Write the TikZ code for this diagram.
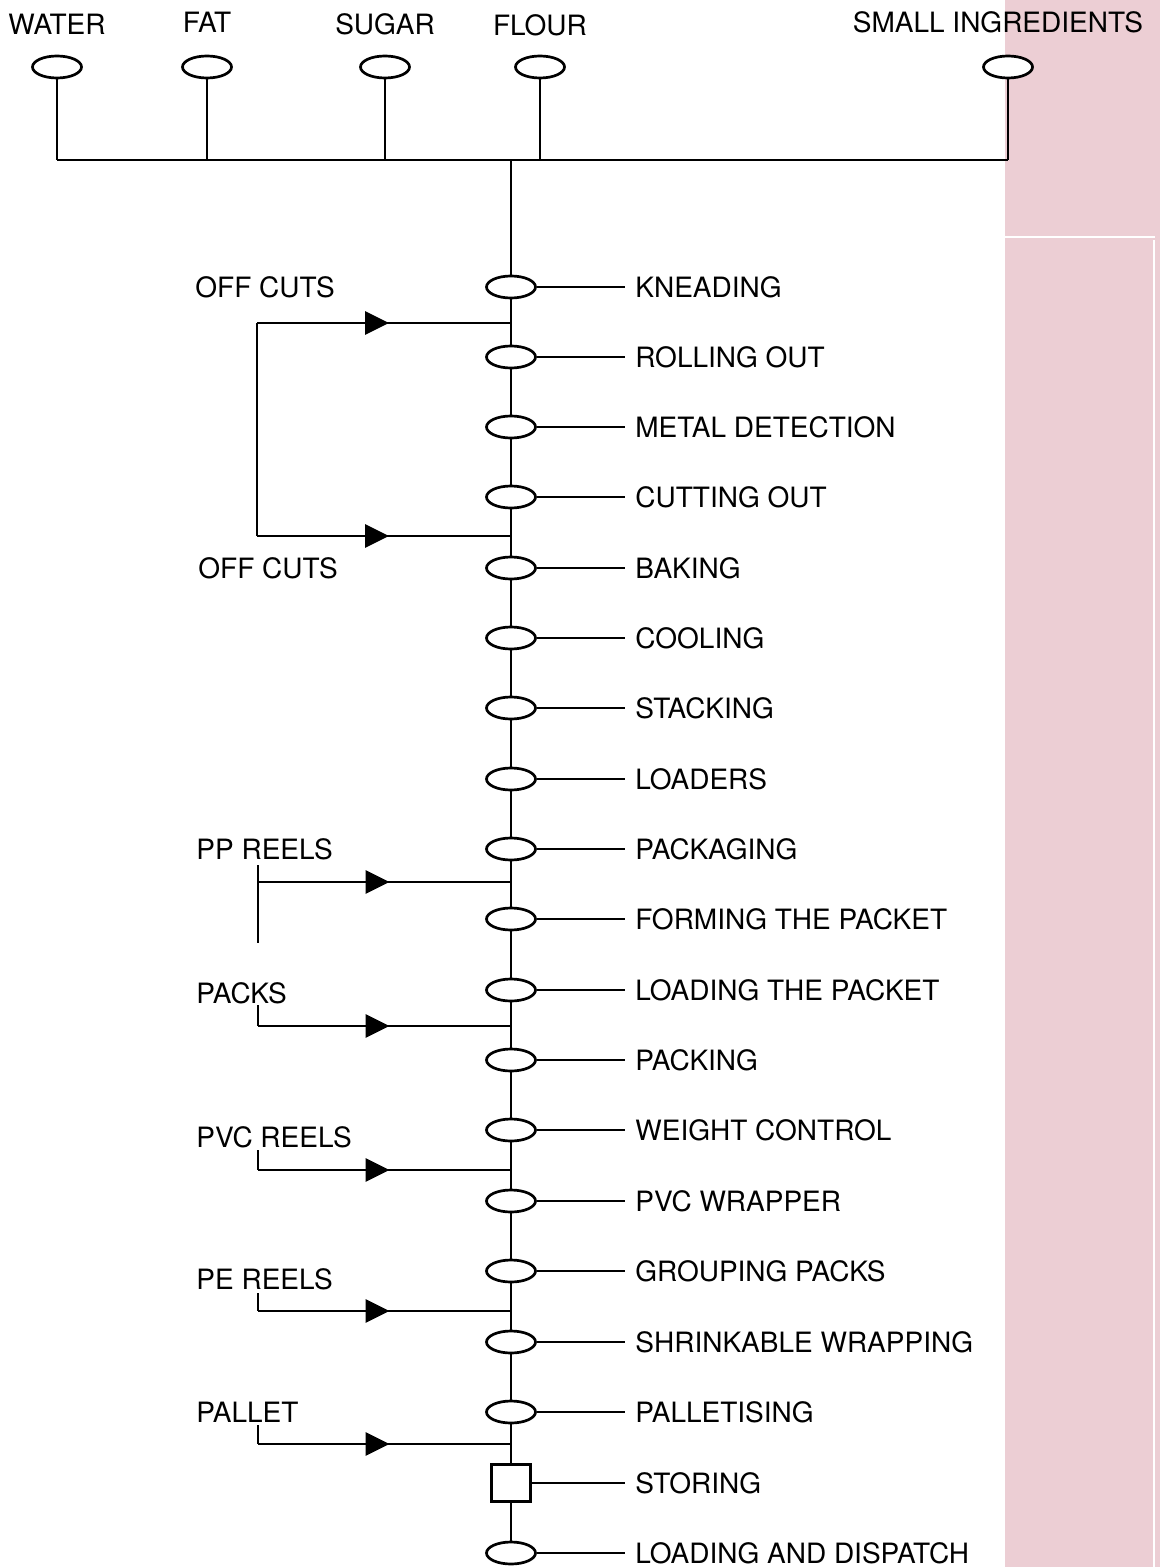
\documentclass[tikz,border=0pt]{standalone}
\usepackage{fontspec}
\setmainfont{TeX Gyre Heros}
\usetikzlibrary{shapes.geometric,arrows.meta,decorations.markings}
\definecolor{bandpink}{RGB}{236,206,212}
\tikzset{
  proc/.style={ellipse,draw,fill=white,line width=1.35pt,minimum width=24.5pt,minimum height=11pt,inner sep=0pt},
  storebox/.style={rectangle,draw,fill=white,line width=1.35pt,minimum width=19.5pt,minimum height=18.5pt,inner sep=0pt},
  lbl/.style={anchor=west,inner xsep=5pt,inner ysep=0pt,font=\fontsize{14}{16}\selectfont},
  toplbl/.style={inner sep=0pt,font=\fontsize{14}{16}\selectfont},
  sidelbl/.style={anchor=west,inner sep=0pt,font=\fontsize{14}{16}\selectfont},
  conn/.style={line width=1.35pt},
  flowline/.style={conn,postaction={decorate},decoration={markings,mark=at position 0.52 with {\arrow{Triangle[length=12pt,width=11.5pt]}}}}
}
\begin{document}
\begin{tikzpicture}[x=0.5pt,y=-0.5pt]
\useasboundingbox (0,0) rectangle (1160,1567);
% watermark band
\fill[bandpink] (1005,0) rectangle (1160,1567);
\draw[white,line width=0.8pt] (1005,237) -- (1155,237);
\draw[white,line width=0.8pt] (1154,240) -- (1154,1567);

% top ingredients
\foreach \n/\x/\ly/\t in {w/57/24/WATER, f/207/22/FAT, s/385/24/SUGAR, fl/540/25/FLOUR}{
  \node[toplbl] (t\n) at (\x,\ly) {\t};
  \node[proc] (e\n) at (\x,67) {};
  \coordinate (b\n) at (\x,160);
  \draw[conn] (e\n.south) -- (b\n);
}
\node[toplbl] (tsi) at (998,22) {SMALL INGREDIENTS};
\node[proc] (esi) at (1008,67) {};
\coordinate (bsi) at (1008,160);
\draw[conn] (esi.south) -- (bsi);
\draw[conn] (bw) -- (bsi);
\coordinate (bmain) at (511,160);

% process steps
\foreach \i/\y/\t in {1/287/KNEADING, 2/357/ROLLING OUT, 3/427/METAL DETECTION, 4/497/CUTTING OUT,
  5/568/BAKING, 6/638/COOLING, 7/708/STACKING, 8/779/LOADERS, 9/849/PACKAGING,
  10/919/FORMING THE PACKET, 11/990/LOADING THE PACKET, 12/1060/PACKING,
  13/1130/WEIGHT CONTROL, 14/1201/PVC WRAPPER, 15/1271/GROUPING PACKS,
  16/1342/SHRINKABLE WRAPPING, 17/1412/PALLETISING, 19/1553/LOADING AND DISPATCH}{
  \node[proc] (s\i) at (511,\y) {};
  \node[lbl] (l\i) at (625,\y) {\t};
  \draw[conn] (s\i.east) -- (l\i.west);
}
\node[storebox] (s18) at (511,1483) {};
\node[lbl] (l18) at (625,1483) {STORING};
\draw[conn] (s18.east) -- (l18.west);

\draw[conn] (bmain) -- (s1.north);
\foreach \i [evaluate=\i as \j using int(\i+1)] in {1,...,18}{
  \draw[conn] (s\i.south) -- (s\j.north);
}

% junctions on main line
\coordinate (j1) at (511,323);
\coordinate (j2) at (511,536);
\coordinate (j3) at (511,882);
\coordinate (j4) at (511,1026);
\coordinate (j5) at (511,1170);
\coordinate (j6) at (511,1311);
\coordinate (j7) at (511,1444);

% off cuts loop
\node[sidelbl] (oc1) at (195,287) {OFF CUTS};
\node[sidelbl] (oc2) at (198,568) {OFF CUTS};
\coordinate (o1) at (257,323);
\coordinate (o2) at (257,536);
\draw[conn] (o1) -- (o2);
\draw[flowline] (o1) -- (j1);
\draw[flowline] (o2) -- (j2);

% PP reels
\node[sidelbl] (pp) at (196,849) {PP REELS};
\coordinate (p0) at (258,865);
\coordinate (p1) at (258,943);
\coordinate (pj) at (258,882);
\draw[conn] (p0) -- (p1);
\draw[flowline] (pj) -- (j3);

% packs
\node[sidelbl] (pk) at (196,993) {PACKS};
\coordinate (k0) at (258,1005);
\coordinate (k1) at (258,1026);
\draw[conn] (k0) -- (k1);
\draw[flowline] (k1) -- (j4);

% PVC reels
\node[sidelbl] (pvc) at (196,1137) {PVC REELS};
\coordinate (v0) at (258,1150);
\coordinate (v1) at (258,1170);
\draw[conn] (v0) -- (v1);
\draw[flowline] (v1) -- (j5);

% PE reels
\node[sidelbl] (pe) at (196,1279) {PE REELS};
\coordinate (q0) at (258,1293);
\coordinate (q1) at (258,1311);
\draw[conn] (q0) -- (q1);
\draw[flowline] (q1) -- (j6);

% pallet
\node[sidelbl] (pal) at (196,1412) {PALLET};
\coordinate (a0) at (258,1425);
\coordinate (a1) at (258,1444);
\draw[conn] (a0) -- (a1);
\draw[flowline] (a1) -- (j7);
\end{tikzpicture}
\end{document}
